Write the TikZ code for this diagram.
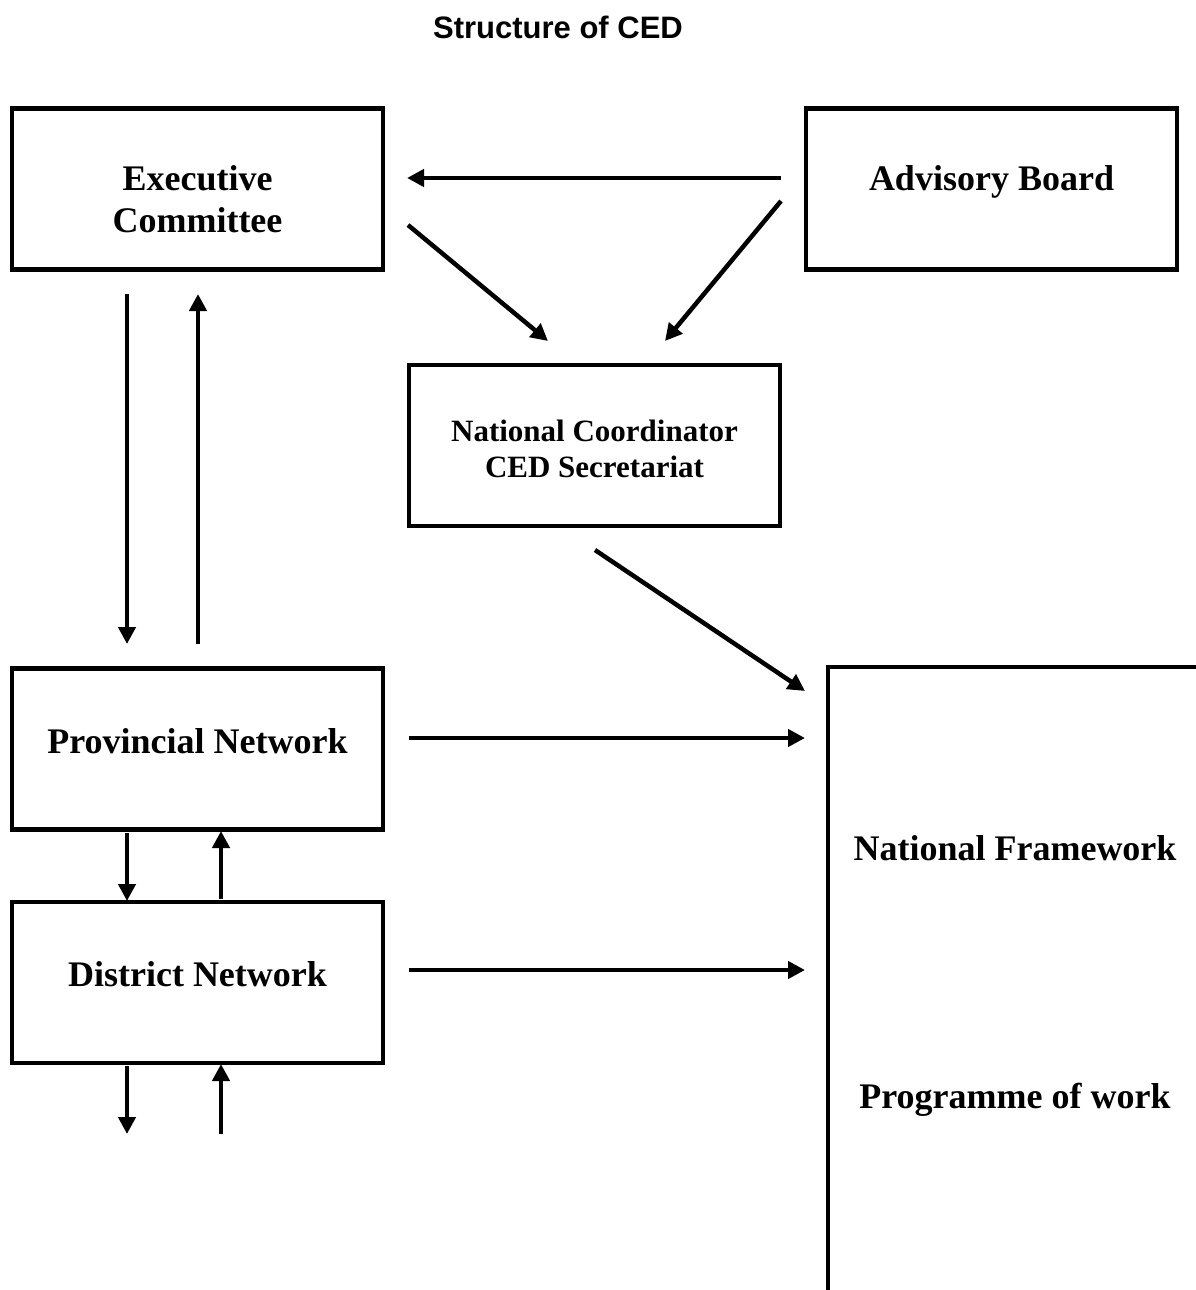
\documentclass[tikz,border=0pt]{standalone}
\usepackage{fontspec}
\setmainfont{Liberation Serif}
\newfontfamily\titlefont{Liberation Sans}
\usetikzlibrary{arrows.meta}
\begin{document}
\begin{tikzpicture}[x=1pt,y=-1pt,
  box/.style={draw,line width=4.5pt,minimum width=371pt,minimum height=161pt,inner sep=0pt},
  btxt/.style={font=\fontsize{36}{42}\selectfont\bfseries,align=center,inner sep=0pt},
  stxt/.style={font=\fontsize{31}{36}\selectfont\bfseries,align=center,inner sep=0pt},
  arr/.style={line width=4.5pt,-{Triangle[length=17pt,width=17pt]}}]
\useasboundingbox (0,0) rectangle (1196,1290);
% title
\node[font=\titlefont\fontsize{31}{36}\selectfont\bfseries,inner sep=0pt] (title) at (558,27) {Structure of CED};
% boxes
\node[box] (exec) at (197.5,189) {};
\node[btxt] (exectxt) at (197.5,199) {Executive\\Committee};
\node[box] (adv) at (991.5,189) {};
\node[btxt] (advtxt) at (991.5,182) {Advisory Board};
\node[box] (nc) at (594.5,445.5) {};
\node[stxt] (nctxt) at (594.5,449) {National Coordinator\\CED Secretariat};
\node[box] (prov) at (197.5,749) {};
\node[btxt] (provtxt) at (197.5,741) {Provincial Network};
\node[box] (dist) at (197.5,982.5) {};
\node[btxt] (disttxt) at (197.5,974) {District Network};
% national framework open frame
\coordinate (nfbl) at (828,1290);
\coordinate (nftl) at (828,667);
\coordinate (nftr) at (1196,667);
\draw[line width=4.5pt] (nfbl) -- (nftl) -- (nftr);
\node[btxt] (nf) at (1015,848) {National Framework};
\node[btxt] (pow) at (1015,1100) {Programme of work};
% arrow endpoints
\coordinate (a1s) at (781,178);  \coordinate (a1e) at (407,178);
\coordinate (a2s) at (408,225);  \coordinate (a2e) at (548,341);
\coordinate (a3s) at (781,201);  \coordinate (a3e) at (665,341);
\coordinate (a4s) at (127,294);  \coordinate (a4e) at (127,644);
\coordinate (a5s) at (198,644);  \coordinate (a5e) at (198,294);
\coordinate (a6s) at (595,550);  \coordinate (a6e) at (805,691);
\coordinate (a7s) at (409,738);  \coordinate (a7e) at (805,738);
\coordinate (a8s) at (409,970);  \coordinate (a8e) at (805,970);
\coordinate (a9s) at (127,833);  \coordinate (a9e) at (127,901);
\coordinate (a10s) at (221,899); \coordinate (a10e) at (221,831);
\coordinate (a11s) at (127,1066); \coordinate (a11e) at (127,1134);
\coordinate (a12s) at (221,1134); \coordinate (a12e) at (221,1064);
\draw[arr] (a1s) -- (a1e);
\draw[arr] (a2s) -- (a2e);
\draw[arr] (a3s) -- (a3e);
\draw[arr] (a4s) -- (a4e);
\draw[arr] (a5s) -- (a5e);
\draw[arr] (a6s) -- (a6e);
\draw[arr] (a7s) -- (a7e);
\draw[arr] (a8s) -- (a8e);
\draw[arr] (a9s) -- (a9e);
\draw[arr] (a10s) -- (a10e);
\draw[arr] (a11s) -- (a11e);
\draw[arr] (a12s) -- (a12e);
\end{tikzpicture}
\end{document}
